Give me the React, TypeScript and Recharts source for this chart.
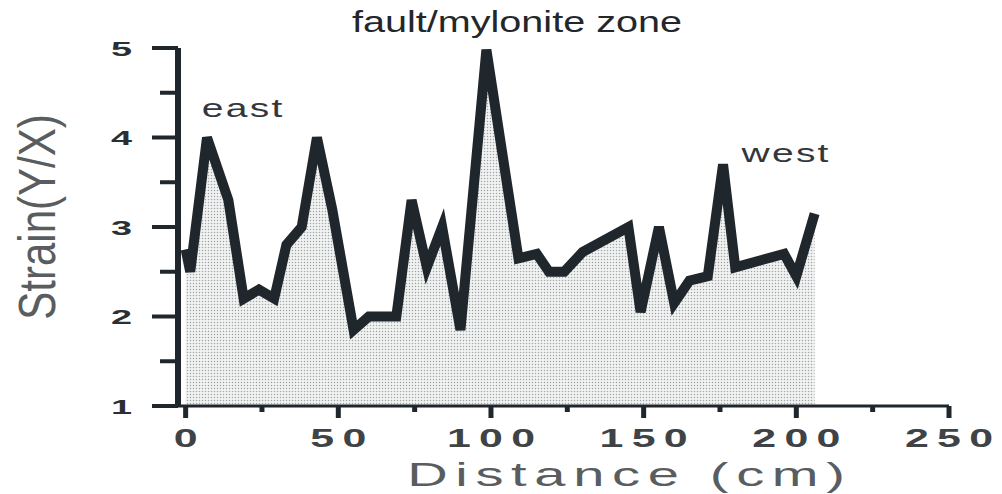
import { AreaChart, Area, XAxis, YAxis, Label } from "recharts";

// distance along the traverse (cm) and strain ratio
const distance = [0, 1.5, 7, 14, 19, 24, 29, 33, 38, 43, 48, 55, 60, 69, 74, 79, 84, 90, 98.5, 109, 115, 119, 124, 130, 145, 149, 155, 160, 165, 171, 176, 180, 196, 200, 206];
const strain = [2.75, 2.5, 4.0, 3.3, 2.2, 2.3, 2.2, 2.8, 3.0, 4.0, 3.2, 1.85, 2.0, 2.0, 3.3, 2.55, 3.0, 1.85, 4.98, 2.65, 2.7, 2.5, 2.5, 2.72, 3.0, 2.05, 3.0, 2.15, 2.4, 2.45, 3.7, 2.55, 2.7, 2.45, 3.15];

const xTicks = [0, 25, 50, 75, 100, 125, 150, 175, 200, 225, 250];
const yTicks = [1, 1.5, 2, 2.5, 3, 3.5, 4, 4.5, 5];

const title = "fault/mylonite zone";
const xTitle = "Distance (cm)";
const yTitle = "Strain(Y/X)";

const data = distance.map((d, i) => ({ d, s: strain[i] }));

const INK = "#1f262c";
const FONT = "'Liberation Sans', Arial, sans-serif";

const YTick = (props: any) => {
  const { x, y, payload } = props;
  const v = payload.value;
  const major = Number.isInteger(v);
  return (
    <g>
      <line x1={x - (major ? 26 : 18)} x2={x} y1={y} y2={y} stroke={INK} strokeWidth={4} />
      {major && (
        <text
          transform={`translate(${x - 46},${y + 7.5}) scale(1.8,1)`}
          textAnchor="end"
          fontFamily={FONT}
          fontWeight="bold"
          fontSize={21}
          fill="#2a2f33"
        >
          {v}
        </text>
      )}
    </g>
  );
};

const XTick = (props: any) => {
  const { x, y, payload } = props;
  const v = payload.value;
  const major = v % 50 === 0;
  return (
    <g>
      <line x1={x} x2={x} y1={y} y2={y + (major ? 12 : 6)} stroke={INK} strokeWidth={5} />
      {major && (
        <text
          transform={`translate(${x},${y + 41}) scale(1.65,1)`}
          textAnchor="middle"
          dx={2.5}
          letterSpacing={5}
          fontFamily={FONT}
          fontWeight="bold"
          fontSize={26}
          fill="#404346"
        >
          {v}
        </text>
      )}
    </g>
  );
};

const XTitle = (props: any) => {
  const { x, y } = props.viewBox;
  return (
    <text
      transform={`translate(${x + 448},${y + 80}) scale(1.7,1)`}
      textAnchor="middle"
      dx={2.25}
      letterSpacing={4.5}
      fontFamily={FONT}
      fontSize={33}
      fill="#5a5d60"
    >
      {xTitle}
    </text>
  );
};

const YTitle = (props: any) => {
  const { x, y } = props.viewBox;
  return (
    <text
      transform={`translate(${x + 55},${y + 169}) rotate(-90) scale(1.05,1.3)`}
      textAnchor="middle"
      fontFamily={FONT}
      fontSize={40}
      fill="#5a5d60"
    >
      {yTitle}
    </text>
  );
};

export default function App() {
  return (
    <div style={{ position: "absolute", left: 0, top: 0, width: 1002, height: 494, background: "#fff" }}>
      <AreaChart width={1002} height={494} data={data} margin={{ top: 48, right: 53, bottom: 0, left: 0 }}>
        <defs>
          <pattern id="dots" width="3" height="3" patternUnits="userSpaceOnUse">
            <rect width="3" height="3" fill="#f1f2f2" />
            <circle cx="1.5" cy="1.5" r="0.75" fill="#a3a6a8" />
          </pattern>
        </defs>
        <XAxis
          type="number"
          dataKey="d"
          domain={[-2.5, 250]}
          ticks={xTicks}
          interval={0}
          height={88}
          tickSize={0}
          tickMargin={0}
          tickLine={false}
          tick={<XTick />}
          axisLine={{ stroke: INK, strokeWidth: 3 }}
        >
          <Label content={<XTitle />} />
        </XAxis>
        <YAxis
          type="number"
          domain={[1, 5]}
          ticks={yTicks}
          interval={0}
          width={178}
          tickSize={0}
          tickMargin={0}
          tickLine={false}
          tick={<YTick />}
          axisLine={{ stroke: INK, strokeWidth: 6 }}
        >
          <Label content={<YTitle />} />
        </YAxis>
        <Area
          type="linear"
          dataKey="s"
          baseValue={1}
          stroke={INK}
          strokeWidth={10}
          strokeLinejoin="miter"
          fill="url(#dots)"
          fillOpacity={1}
          dot={false}
          activeDot={false}
          isAnimationActive={false}
        />
      </AreaChart>
      <svg width={1002} height={494} style={{ position: "absolute", left: 0, top: 0, pointerEvents: "none" }}>
        <text transform="translate(517,32) scale(1.32,1)" textAnchor="middle" fontFamily={FONT} fontSize={30} fill="#23272b">
          {title}
        </text>
        <text transform="translate(242,117) scale(1.5,1)" textAnchor="middle" dx={0.75} letterSpacing={1.5} fontFamily={FONT} fontSize={26} fill="#33373b">
          east
        </text>
        <text transform="translate(785,162) scale(1.5,1)" textAnchor="middle" dx={0.75} letterSpacing={1.5} fontFamily={FONT} fontSize={26} fill="#33373b">
          west
        </text>
      </svg>
    </div>
  );
}
